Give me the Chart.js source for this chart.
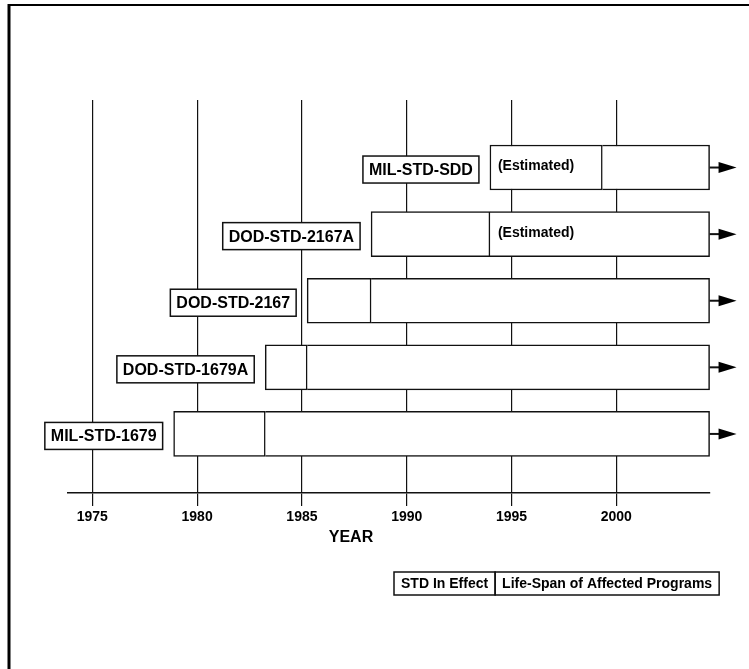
<!DOCTYPE html>
<html>
<head>
<meta charset="utf-8">
<title>Software standards timeline</title>
<script src="https://cdn.jsdelivr.net/npm/chart.js@4.4.1/dist/chart.umd.min.js"></script>
<style>
  html, body { margin: 0; padding: 0; background: #fff; }
  canvas { display: block; }
</style>
</head>
<body>
<canvas id="myChart" width="749" height="669"></canvas>
<script>
// rows, top to bottom
const standards = ['MIL-STD-SDD', 'DOD-STD-2167A', 'DOD-STD-2167', 'DOD-STD-1679A', 'MIL-STD-1679'];
const effectStart = [1993.97, 1988.3, 1985.25, 1983.25, 1978.88];
const effectEnd = [1999.33, 1993.97, 1988.3, 1985.25, 1983.25];
const lifeEnd = [2004.45, 2004.45, 2004.45, 2004.45, 2004.45];
const effectNotes = ['(Estimated)', '', '', '', ''];
const lifeNotes = ['', '(Estimated)', '', '', ''];
const seriesNames = ['STD In Effect', 'Life-Span of Affected Programs'];
const tickYears = [1975, 1980, 1985, 1990, 1995, 2000];

const FONT = "'Liberation Sans', Arial, Helvetica, sans-serif";
const ctx = document.getElementById('myChart');

const timeline = {
  id: 'timeline',
  beforeDraw(chart) {
    const c = chart.ctx;
    c.save();
    c.fillStyle = '#fff';
    c.fillRect(0, 0, chart.width, chart.height);
    c.restore();
  },
  afterDatasetsDraw(chart) {
    const c = chart.ctx;
    const effect = chart.getDatasetMeta(0).data;
    const life = chart.getDatasetMeta(1).data;
    c.save();
    c.strokeStyle = '#111';
    c.fillStyle = '#000';
    c.textBaseline = 'middle';

    // "(Estimated)" notes inside the bars
    c.font = 'bold 14px ' + FONT;
    c.textAlign = 'left';
    [[effect, effectNotes], [life, lifeNotes]].forEach(([bars, notes]) => {
      bars.forEach((bar, i) => {
        if (!notes[i]) return;
        c.fillText(notes[i], Math.min(bar.x, bar.base) + 8, bar.y - 1);
      });
    });

    // name boxes to the left of each bar
    c.font = 'bold 16px ' + FONT;
    c.textAlign = 'center';
    c.lineWidth = 1.5;
    effect.forEach((bar, i) => {
      const w = c.measureText(standards[i]).width + 12;
      const right = Math.min(bar.x, bar.base) - 11;
      const cy = bar.y + 2;
      c.fillStyle = '#fff';
      c.fillRect(right - w, cy - 13.5, w, 27);
      c.strokeRect(right - w, cy - 13.5, w, 27);
      c.fillStyle = '#000';
      c.fillText(standards[i], right - w / 2, cy + 1);
    });

    // arrows past the end of each life-span bar
    c.lineWidth = 2;
    c.fillStyle = '#000';
    life.forEach(bar => {
      const x0 = Math.max(bar.x, bar.base);
      c.beginPath();
      c.moveTo(x0, bar.y);
      c.lineTo(x0 + 10, bar.y);
      c.stroke();
      c.beginPath();
      c.moveTo(x0 + 9, bar.y - 5.5);
      c.lineTo(x0 + 27, bar.y);
      c.lineTo(x0 + 9, bar.y + 5.5);
      c.closePath();
      c.fill();
    });
    c.restore();
  },
  afterDraw(chart) {
    const c = chart.ctx;
    c.save();
    c.strokeStyle = '#000';
    c.fillStyle = '#000';

    // page frame (left and top edges)
    c.lineWidth = 3;
    c.beginPath();
    c.moveTo(9, 4);
    c.lineTo(9, chart.height);
    c.stroke();
    c.lineWidth = 2;
    c.beginPath();
    c.moveTo(8, 5);
    c.lineTo(chart.width, 5);
    c.stroke();

    // axis title
    c.font = 'bold 16px ' + FONT;
    c.textAlign = 'center';
    c.textBaseline = 'middle';
    c.fillText('YEAR', 351, 538);

    // legend boxes
    c.font = 'bold 14px ' + FONT;
    c.textAlign = 'left';
    c.lineWidth = 1.5;
    c.strokeStyle = '#111';
    let lx = 394;
    chart.data.datasets.forEach(ds => {
      const w = c.measureText(ds.label).width + 14;
      c.strokeRect(lx, 572, w, 23);
      c.fillText(ds.label, lx + 7, 584);
      lx += w;
    });
    c.restore();
  }
};

const barStyle = {
  backgroundColor: '#fff',
  borderColor: '#111',
  borderWidth: 1.5,
  grouped: false,
  barThickness: 45,
  categoryPercentage: 1,
  barPercentage: 1,
  clip: false
};

const chart = new Chart(ctx, {
  type: 'bar',
  data: {
    datasets: [
      Object.assign({
        label: seriesNames[0],
        data: standards.map((_, i) => ({ y: i, x: [effectStart[i], effectEnd[i]] }))
      }, barStyle, { borderSkipped: false }),
      Object.assign({
        label: seriesNames[1],
        data: standards.map((_, i) => ({ y: i, x: [effectEnd[i], lifeEnd[i]] }))
      }, barStyle, { borderSkipped: 'start' })
    ]
  },
  options: {
    responsive: false,
    animation: false,
    indexAxis: 'y',
    layout: { padding: { left: 68, right: 39, top: 100, bottom: 0 } },
    plugins: {
      legend: { display: false },
      tooltip: { enabled: false },
      title: { display: false }
    },
    scales: {
      x: {
        type: 'linear',
        min: 1973.84,
        max: 2004.47,
        afterBuildTicks: s => { s.ticks = tickYears.map(v => ({ value: v })); },
        afterFit: s => { s.height = 176; },
        grid: { color: '#111', lineWidth: 1.2, tickLength: 13, tickColor: '#111' },
        border: { display: true, color: '#111', width: 1.5 },
        ticks: {
          color: '#000',
          padding: 3,
          font: { family: FONT, size: 14, weight: 'bold' },
          callback: v => String(v)
        }
      },
      y: {
        type: 'linear',
        reverse: true,
        offset: false,
        min: -1.014,
        max: 4.887,
        display: false,
        afterBuildTicks: s => { s.ticks = standards.map((_, i) => ({ value: i })); }
      }
    }
  },
  plugins: [timeline]
});
</script>
</body>
</html>
